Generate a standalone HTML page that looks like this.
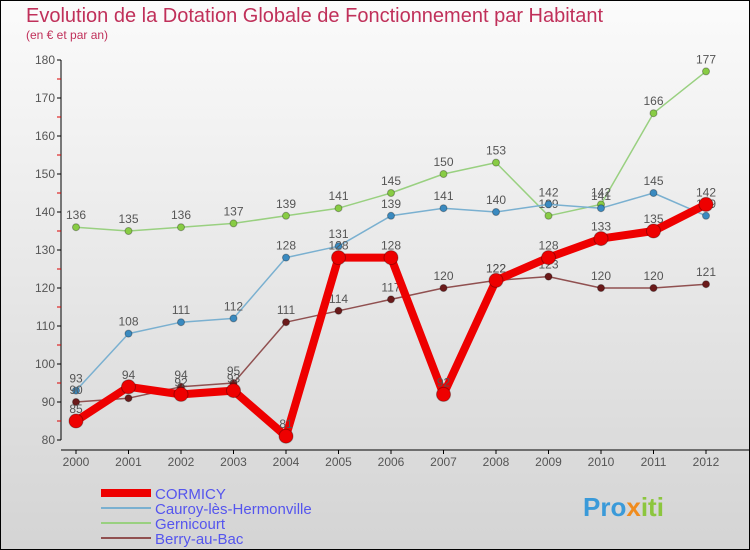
<!DOCTYPE html>
<html><head><meta charset="utf-8"><style>
body{margin:0}
svg{display:block;font-family:"Liberation Sans",sans-serif}
</style></head><body>
<svg id="c" width="750" height="550" viewBox="0 0 750 550">
<defs><linearGradient id="bg" x1="0" y1="0" x2="0" y2="1"><stop offset="0" stop-color="#fbfbfb"/><stop offset="1" stop-color="#d4d4d4"/></linearGradient></defs>
<rect x="0.5" y="0.5" width="749" height="549" fill="url(#bg)" stroke="#000"/>
<text x="26" y="22" font-size="20" fill="#c0305a">Evolution de la Dotation Globale de Fonctionnement par Habitant</text>
<text x="26" y="39" font-size="12" fill="#c0305a">(en € et par an)</text>
<g id="axes"></g><g id="series"></g>
<g>
<rect x="101" y="489" width="50" height="8" fill="#e00"/>
<text x="155" y="499" font-size="15" fill="#5555ee">CORMICY</text>
<rect x="101" y="507" width="50" height="2" fill="#7ab0d0"/>
<text x="155" y="514" font-size="15" fill="#5555ee">Cauroy-lès-Hermonville</text>
<rect x="101" y="522" width="50" height="2" fill="#99d080"/>
<text x="155" y="529" font-size="15" fill="#5555ee">Gernicourt</text>
<rect x="101" y="537" width="50" height="2" fill="#905050"/>
<text x="155" y="544" font-size="15" fill="#5555ee">Berry-au-Bac</text>
</g>
<text x="583" y="516" font-size="26" font-weight="bold" fill="#3a9ad9">Pro<tspan fill="#f08c1e">x</tspan><tspan fill="#8cc63e">iti</tspan></text>
</svg>
<script>
const years=[2000,2001,2002,2003,2004,2005,2006,2007,2008,2009,2010,2011,2012];
const yTicks=[80,90,100,110,120,130,140,150,160,170,180];
const cormicy=[85,94,92,93,81,128,128,92,122,128,133,135,142];
const cauroy=[93,108,111,112,128,131,139,141,140,142,141,145,139];
const gernicourt=[136,135,136,137,139,141,145,150,153,139,142,166,177];
const berry=[90,91,94,95,111,114,117,120,122,123,120,120,121];
const NS="http://www.w3.org/2000/svg";
const X=i=>76+i*52.5, Y=v=>440-(v-80)*3.8;
function mk(tag,at,par){const e=document.createElementNS(NS,tag);for(const k in at)e.setAttribute(k,at[k]);par.appendChild(e);return e;}
const ax=document.getElementById('axes'), sr=document.getElementById('series');
let a=mk('line',{x1:61,y1:Y(180),x2:61,y2:Y(80),stroke:'#000'},ax);


yTicks.forEach((t,i)=>{
 mk('line',{x1:57,x2:61,y1:Y(t),y2:Y(t),stroke:'#000'},ax);
 if(i<yTicks.length-1)mk('line',{x1:57,x2:61,y1:Y(t+5),y2:Y(t+5),stroke:'#d00'},ax);
 const tx=mk('text',{x:55,y:Y(t)+4,'font-size':12,fill:'#555','text-anchor':'end'},ax);tx.textContent=t;
 
 
});
a=mk('line',{x1:61,y1:450,x2:750,y2:450,stroke:'#000'},ax);


years.forEach((y,i)=>{
 mk('line',{x1:X(i),x2:X(i),y1:450,y2:454,stroke:'#000'},ax);
 const tx=mk('text',{x:X(i),y:466,'font-size':12,fill:'#555','text-anchor':'middle'},ax);tx.textContent=y;
 
 
});
function draw(name,vals,col,w,r,pc){
 const g=mk('g',{},sr);
 
 
 mk('polyline',{points:vals.map((v,i)=>X(i)+','+Y(v)).join(' '),fill:'none',stroke:col,'stroke-width':w,'stroke-linejoin':'round'},g);
 vals.forEach((v,i)=>{
  const c=mk('circle',{cx:X(i),cy:Y(v),r:r,fill:pc,stroke:'rgba(0,0,0,0.3)'},g);
  
  
  const t=mk('text',{x:X(i),y:Y(v)-8,'font-size':12,fill:'#555','text-anchor':'middle'},g);t.textContent=v;
 });
}
draw('gernicourt',gernicourt,'#99d080',1.5,3.5,'#88cc44');
draw('cauroy',cauroy,'#7ab0d0',1.5,3.5,'#3a8ac0');
draw('berry',berry,'#905050',1.5,3.5,'#6b1a1a');
draw('cormicy',cormicy,'#ee0000',8,7,'#ee0000');
</script>
</body></html>
